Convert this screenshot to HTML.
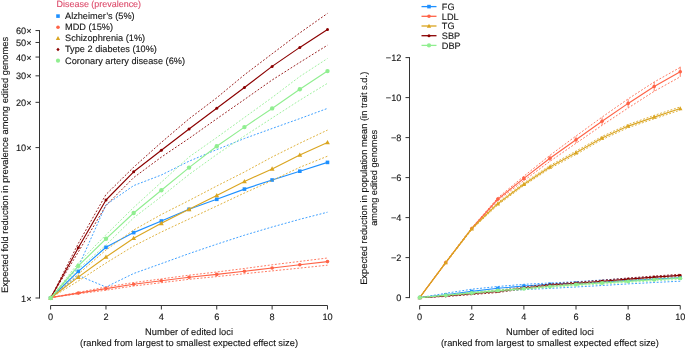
<!DOCTYPE html>
<html><head><meta charset="utf-8"><style>
html,body{margin:0;padding:0;background:#fff;}
svg{display:block;will-change:transform;}
text{text-rendering:geometricPrecision;font-family:"Liberation Sans", sans-serif;font-size:9.2px;fill:#141414;stroke:#141414;stroke-width:0.12px;}
</style></head><body>
<svg width="685" height="348" viewBox="0 0 685 348">
<line x1="39.5" y1="30.1" x2="39.5" y2="298.5" stroke="#333" stroke-width="1"/>
<line x1="35.5" y1="298.00" x2="39.5" y2="298.00" stroke="#333" stroke-width="1"/>
<text x="31.5" y="301.60" text-anchor="end">1×</text>
<line x1="35.5" y1="147.60" x2="39.5" y2="147.60" stroke="#333" stroke-width="1"/>
<text x="31.5" y="151.20" text-anchor="end">10×</text>
<line x1="35.5" y1="102.33" x2="39.5" y2="102.33" stroke="#333" stroke-width="1"/>
<text x="31.5" y="105.93" text-anchor="end">20×</text>
<line x1="35.5" y1="75.84" x2="39.5" y2="75.84" stroke="#333" stroke-width="1"/>
<text x="31.5" y="79.44" text-anchor="end">30×</text>
<line x1="35.5" y1="57.05" x2="39.5" y2="57.05" stroke="#333" stroke-width="1"/>
<text x="31.5" y="60.65" text-anchor="end">40×</text>
<line x1="35.5" y1="42.47" x2="39.5" y2="42.47" stroke="#333" stroke-width="1"/>
<text x="31.5" y="46.07" text-anchor="end">50×</text>
<line x1="35.5" y1="30.57" x2="39.5" y2="30.57" stroke="#333" stroke-width="1"/>
<text x="31.5" y="34.17" text-anchor="end">60×</text>
<line x1="50.60" y1="305.5" x2="327.50" y2="305.5" stroke="#333" stroke-width="1"/>
<line x1="50.60" y1="305.5" x2="50.60" y2="309.5" stroke="#333" stroke-width="1"/>
<text x="50.60" y="320.1" text-anchor="middle">0</text>
<line x1="105.98" y1="305.5" x2="105.98" y2="309.5" stroke="#333" stroke-width="1"/>
<text x="105.98" y="320.1" text-anchor="middle">2</text>
<line x1="161.36" y1="305.5" x2="161.36" y2="309.5" stroke="#333" stroke-width="1"/>
<text x="161.36" y="320.1" text-anchor="middle">4</text>
<line x1="216.74" y1="305.5" x2="216.74" y2="309.5" stroke="#333" stroke-width="1"/>
<text x="216.74" y="320.1" text-anchor="middle">6</text>
<line x1="272.12" y1="305.5" x2="272.12" y2="309.5" stroke="#333" stroke-width="1"/>
<text x="272.12" y="320.1" text-anchor="middle">8</text>
<line x1="327.50" y1="305.5" x2="327.50" y2="309.5" stroke="#333" stroke-width="1"/>
<text x="327.50" y="320.1" text-anchor="middle">10</text>
<text x="189.05" y="335.2" text-anchor="middle" style="font-size:9.3px">Number of edited loci</text>
<text x="189.05" y="345.9" text-anchor="middle" style="font-size:9.3px">(ranked from largest to smallest expected effect size)</text>
<text transform="translate(7.7 164.9) rotate(-90)" text-anchor="middle" style="font-size:9.36px">Expected fold reduction in prevalence among edited genomes</text>
<line x1="409.5" y1="57.1" x2="409.5" y2="298.1" stroke="#333" stroke-width="1"/>
<line x1="405.5" y1="297.60" x2="409.5" y2="297.60" stroke="#333" stroke-width="1"/>
<text x="401.4" y="301.10" text-anchor="end">0</text>
<line x1="405.5" y1="257.60" x2="409.5" y2="257.60" stroke="#333" stroke-width="1"/>
<text x="401.4" y="261.10" text-anchor="end">−2</text>
<line x1="405.5" y1="217.60" x2="409.5" y2="217.60" stroke="#333" stroke-width="1"/>
<text x="401.4" y="221.10" text-anchor="end">−4</text>
<line x1="405.5" y1="177.60" x2="409.5" y2="177.60" stroke="#333" stroke-width="1"/>
<text x="401.4" y="181.10" text-anchor="end">−6</text>
<line x1="405.5" y1="137.60" x2="409.5" y2="137.60" stroke="#333" stroke-width="1"/>
<text x="401.4" y="141.10" text-anchor="end">−8</text>
<line x1="405.5" y1="97.60" x2="409.5" y2="97.60" stroke="#333" stroke-width="1"/>
<text x="401.4" y="101.10" text-anchor="end">−10</text>
<line x1="405.5" y1="57.60" x2="409.5" y2="57.60" stroke="#333" stroke-width="1"/>
<text x="401.4" y="61.10" text-anchor="end">−12</text>
<line x1="419.65" y1="305.5" x2="680.25" y2="305.5" stroke="#333" stroke-width="1"/>
<line x1="419.65" y1="305.5" x2="419.65" y2="309.5" stroke="#333" stroke-width="1"/>
<text x="419.65" y="320.1" text-anchor="middle">0</text>
<line x1="471.77" y1="305.5" x2="471.77" y2="309.5" stroke="#333" stroke-width="1"/>
<text x="471.77" y="320.1" text-anchor="middle">2</text>
<line x1="523.89" y1="305.5" x2="523.89" y2="309.5" stroke="#333" stroke-width="1"/>
<text x="523.89" y="320.1" text-anchor="middle">4</text>
<line x1="576.01" y1="305.5" x2="576.01" y2="309.5" stroke="#333" stroke-width="1"/>
<text x="576.01" y="320.1" text-anchor="middle">6</text>
<line x1="628.13" y1="305.5" x2="628.13" y2="309.5" stroke="#333" stroke-width="1"/>
<text x="628.13" y="320.1" text-anchor="middle">8</text>
<line x1="680.25" y1="305.5" x2="680.25" y2="309.5" stroke="#333" stroke-width="1"/>
<text x="680.25" y="320.1" text-anchor="middle">10</text>
<text x="549.95" y="335.2" text-anchor="middle" style="font-size:9.3px">Number of edited loci</text>
<text x="549.95" y="345.9" text-anchor="middle" style="font-size:9.3px">(ranked from largest to smallest expected effect size)</text>
<text transform="translate(367.4 178.3) rotate(-90)" text-anchor="middle" style="font-size:9.33px">Expected reduction in population mean (in trait s.d.)</text>
<text transform="translate(377.4 177.8) rotate(-90)" text-anchor="middle">among edited genomes</text>
<polyline points="50.60,298.00 78.29,267.00 105.98,204.80 133.67,185.60 161.36,175.00 189.05,161.20 216.74,149.60 244.43,138.50 272.12,128.50 299.81,118.60 327.50,108.40" fill="none" stroke="#1E90FF" stroke-width="0.95" stroke-dasharray="1.9 1.7" stroke-opacity="0.9"/>
<polyline points="50.60,298.00 78.29,275.50 105.98,287.00 133.67,273.50 161.36,263.60 189.05,253.60 216.74,244.20 244.43,235.20 272.12,227.00 299.81,219.30 327.50,212.20" fill="none" stroke="#1E90FF" stroke-width="0.95" stroke-dasharray="1.9 1.7" stroke-opacity="0.9"/>
<polyline points="50.60,298.00 78.29,271.40 105.98,247.30 133.67,232.60 161.36,221.00 189.05,209.30 216.74,199.30 244.43,189.10 272.12,180.00 299.81,171.20 327.50,162.40" fill="none" stroke="#1E90FF" stroke-width="1.15" stroke-linejoin="round"/>
<rect x="48.80" y="296.20" width="3.60" height="3.60" fill="#1E90FF"/>
<rect x="76.49" y="269.60" width="3.60" height="3.60" fill="#1E90FF"/>
<rect x="104.18" y="245.50" width="3.60" height="3.60" fill="#1E90FF"/>
<rect x="131.87" y="230.80" width="3.60" height="3.60" fill="#1E90FF"/>
<rect x="159.56" y="219.20" width="3.60" height="3.60" fill="#1E90FF"/>
<rect x="187.25" y="207.50" width="3.60" height="3.60" fill="#1E90FF"/>
<rect x="214.94" y="197.50" width="3.60" height="3.60" fill="#1E90FF"/>
<rect x="242.63" y="187.30" width="3.60" height="3.60" fill="#1E90FF"/>
<rect x="270.32" y="178.20" width="3.60" height="3.60" fill="#1E90FF"/>
<rect x="298.01" y="169.40" width="3.60" height="3.60" fill="#1E90FF"/>
<rect x="325.70" y="160.60" width="3.60" height="3.60" fill="#1E90FF"/>
<polyline points="50.60,297.60 78.29,292.40 105.98,287.00 133.67,282.60 161.36,278.90 189.05,275.20 216.74,272.00 244.43,268.50 272.12,264.80 299.81,261.40 327.50,258.00" fill="none" stroke="#FF6347" stroke-width="0.95" stroke-dasharray="1.9 1.7" stroke-opacity="0.9"/>
<polyline points="50.60,297.60 78.29,293.80 105.98,290.20 133.67,286.00 161.36,282.70 189.05,279.30 216.74,276.60 244.43,273.70 272.12,270.90 299.81,268.10 327.50,265.20" fill="none" stroke="#FF6347" stroke-width="0.95" stroke-dasharray="1.9 1.7" stroke-opacity="0.9"/>
<polyline points="50.60,297.60 78.29,293.10 105.98,288.60 133.67,284.30 161.36,280.80 189.05,277.20 216.74,274.40 244.43,271.20 272.12,268.00 299.81,264.80 327.50,261.60" fill="none" stroke="#FF6347" stroke-width="1.15" stroke-linejoin="round"/>
<circle cx="50.60" cy="297.60" r="1.80" fill="#FF6347"/>
<circle cx="78.29" cy="293.10" r="1.80" fill="#FF6347"/>
<circle cx="105.98" cy="288.60" r="1.80" fill="#FF6347"/>
<circle cx="133.67" cy="284.30" r="1.80" fill="#FF6347"/>
<circle cx="161.36" cy="280.80" r="1.80" fill="#FF6347"/>
<circle cx="189.05" cy="277.20" r="1.80" fill="#FF6347"/>
<circle cx="216.74" cy="274.40" r="1.80" fill="#FF6347"/>
<circle cx="244.43" cy="271.20" r="1.80" fill="#FF6347"/>
<circle cx="272.12" cy="268.00" r="1.80" fill="#FF6347"/>
<circle cx="299.81" cy="264.80" r="1.80" fill="#FF6347"/>
<circle cx="327.50" cy="261.60" r="1.80" fill="#FF6347"/>
<polyline points="50.60,298.00 78.29,274.00 105.98,250.00 133.67,230.00 161.36,214.50 189.05,200.50 216.74,186.00 244.43,172.00 272.12,157.00 299.81,143.20 327.50,130.10" fill="none" stroke="#DAA520" stroke-width="0.95" stroke-dasharray="1.9 1.7" stroke-opacity="0.9"/>
<polyline points="50.60,298.00 78.29,281.00 105.98,263.00 133.67,246.00 161.36,232.00 189.05,219.00 216.74,206.00 244.43,193.00 272.12,180.50 299.81,167.30 327.50,156.20" fill="none" stroke="#DAA520" stroke-width="0.95" stroke-dasharray="1.9 1.7" stroke-opacity="0.9"/>
<polyline points="50.60,298.00 78.29,277.10 105.98,257.00 133.67,238.20 161.36,223.30 189.05,209.30 216.74,195.50 244.43,181.50 272.12,168.90 299.81,155.00 327.50,142.50" fill="none" stroke="#DAA520" stroke-width="1.15" stroke-linejoin="round"/>
<path d="M50.60 295.47L53.02 299.87L48.18 299.87Z" fill="#DAA520"/>
<path d="M78.29 274.57L80.71 278.97L75.87 278.97Z" fill="#DAA520"/>
<path d="M105.98 254.47L108.40 258.87L103.56 258.87Z" fill="#DAA520"/>
<path d="M133.67 235.67L136.09 240.07L131.25 240.07Z" fill="#DAA520"/>
<path d="M161.36 220.77L163.78 225.17L158.94 225.17Z" fill="#DAA520"/>
<path d="M189.05 206.77L191.47 211.17L186.63 211.17Z" fill="#DAA520"/>
<path d="M216.74 192.97L219.16 197.37L214.32 197.37Z" fill="#DAA520"/>
<path d="M244.43 178.97L246.85 183.37L242.01 183.37Z" fill="#DAA520"/>
<path d="M272.12 166.37L274.54 170.77L269.70 170.77Z" fill="#DAA520"/>
<path d="M299.81 152.47L302.23 156.87L297.39 156.87Z" fill="#DAA520"/>
<path d="M327.50 139.97L329.92 144.37L325.08 144.37Z" fill="#DAA520"/>
<polyline points="50.60,298.00 78.29,243.50 105.98,194.50 133.67,167.20 161.36,142.40 189.05,118.80 216.74,97.80 244.43,74.80 272.12,53.80 299.81,32.90 327.50,13.40" fill="none" stroke="#8B0000" stroke-width="0.95" stroke-dasharray="1.9 1.7" stroke-opacity="0.9"/>
<polyline points="50.60,298.00 78.29,252.00 105.98,205.50 133.67,177.60 161.36,157.10 189.05,138.40 216.74,118.80 244.43,99.50 272.12,80.00 299.81,62.40 327.50,45.20" fill="none" stroke="#8B0000" stroke-width="0.95" stroke-dasharray="1.9 1.7" stroke-opacity="0.9"/>
<polyline points="50.60,298.00 78.29,247.80 105.98,200.00 133.67,171.80 161.36,150.20 189.05,129.00 216.74,108.30 244.43,87.50 272.12,66.40 299.81,47.40 327.50,29.50" fill="none" stroke="#8B0000" stroke-width="1.15" stroke-linejoin="round"/>
<circle cx="50.60" cy="298.00" r="1.50" fill="#8B0000"/>
<circle cx="78.29" cy="247.80" r="1.50" fill="#8B0000"/>
<circle cx="105.98" cy="200.00" r="1.50" fill="#8B0000"/>
<circle cx="133.67" cy="171.80" r="1.50" fill="#8B0000"/>
<circle cx="161.36" cy="150.20" r="1.50" fill="#8B0000"/>
<circle cx="189.05" cy="129.00" r="1.50" fill="#8B0000"/>
<circle cx="216.74" cy="108.30" r="1.50" fill="#8B0000"/>
<circle cx="244.43" cy="87.50" r="1.50" fill="#8B0000"/>
<circle cx="272.12" cy="66.40" r="1.50" fill="#8B0000"/>
<circle cx="299.81" cy="47.40" r="1.50" fill="#8B0000"/>
<circle cx="327.50" cy="29.50" r="1.50" fill="#8B0000"/>
<polyline points="50.60,298.00 78.29,263.00 105.98,234.80 133.67,207.50 161.36,182.20 189.05,157.00 216.74,137.50 244.43,117.50 272.12,97.50 299.81,76.50 327.50,58.50" fill="none" stroke="#90EE90" stroke-width="0.95" stroke-dasharray="1.9 1.7" stroke-opacity="0.9"/>
<polyline points="50.60,298.00 78.29,269.00 105.98,245.00 133.67,217.80 161.36,196.60 189.05,174.50 216.74,154.50 244.43,136.00 272.12,118.00 299.81,100.20 327.50,83.30" fill="none" stroke="#90EE90" stroke-width="0.95" stroke-dasharray="1.9 1.7" stroke-opacity="0.9"/>
<polyline points="50.60,298.00 78.29,265.90 105.98,238.80 133.67,213.00 161.36,190.30 189.05,167.60 216.74,146.30 244.43,127.10 272.12,108.40 299.81,89.30 327.50,71.10" fill="none" stroke="#90EE90" stroke-width="1.15" stroke-linejoin="round"/>
<circle cx="50.60" cy="298.00" r="2.20" fill="#90EE90"/>
<circle cx="78.29" cy="265.90" r="2.20" fill="#90EE90"/>
<circle cx="105.98" cy="238.80" r="2.20" fill="#90EE90"/>
<circle cx="133.67" cy="213.00" r="2.20" fill="#90EE90"/>
<circle cx="161.36" cy="190.30" r="2.20" fill="#90EE90"/>
<circle cx="189.05" cy="167.60" r="2.20" fill="#90EE90"/>
<circle cx="216.74" cy="146.30" r="2.20" fill="#90EE90"/>
<circle cx="244.43" cy="127.10" r="2.20" fill="#90EE90"/>
<circle cx="272.12" cy="108.40" r="2.20" fill="#90EE90"/>
<circle cx="299.81" cy="89.30" r="2.20" fill="#90EE90"/>
<circle cx="327.50" cy="71.10" r="2.20" fill="#90EE90"/>
<polyline points="419.65,297.60 445.71,293.30 471.77,289.20 497.83,286.50 523.89,284.30 549.95,283.00 576.01,281.70 602.07,280.00 628.13,278.40 654.19,276.80 680.25,275.30" fill="none" stroke="#1E90FF" stroke-width="0.95" stroke-dasharray="1.9 1.7" stroke-opacity="0.9"/>
<polyline points="419.65,297.60 445.71,296.00 471.77,293.50 497.83,291.20 523.89,289.60 549.95,288.40 576.01,287.00 602.07,285.50 628.13,283.90 654.19,282.50 680.25,281.20" fill="none" stroke="#1E90FF" stroke-width="0.95" stroke-dasharray="1.9 1.7" stroke-opacity="0.9"/>
<polyline points="419.65,297.60 445.71,294.70 471.77,291.40 497.83,288.30 523.89,286.00 549.95,284.30 576.01,283.20 602.07,282.00 628.13,280.50 654.19,279.10 680.25,277.80" fill="none" stroke="#1E90FF" stroke-width="1.15" stroke-linejoin="round"/>
<rect x="417.95" y="295.90" width="3.40" height="3.40" fill="#1E90FF"/>
<rect x="444.01" y="293.00" width="3.40" height="3.40" fill="#1E90FF"/>
<rect x="470.07" y="289.70" width="3.40" height="3.40" fill="#1E90FF"/>
<rect x="496.13" y="286.60" width="3.40" height="3.40" fill="#1E90FF"/>
<rect x="522.19" y="284.30" width="3.40" height="3.40" fill="#1E90FF"/>
<rect x="548.25" y="282.60" width="3.40" height="3.40" fill="#1E90FF"/>
<rect x="574.31" y="281.50" width="3.40" height="3.40" fill="#1E90FF"/>
<rect x="600.37" y="280.30" width="3.40" height="3.40" fill="#1E90FF"/>
<rect x="626.43" y="278.80" width="3.40" height="3.40" fill="#1E90FF"/>
<rect x="652.49" y="277.40" width="3.40" height="3.40" fill="#1E90FF"/>
<rect x="678.55" y="276.10" width="3.40" height="3.40" fill="#1E90FF"/>
<polyline points="419.65,297.60 445.71,262.30 471.77,227.80 497.83,197.80 523.89,176.20 549.95,155.30 576.01,136.00 602.07,117.10 628.13,98.90 654.19,82.00 680.25,67.40" fill="none" stroke="#FF6347" stroke-width="0.95" stroke-dasharray="1.9 1.7" stroke-opacity="0.9"/>
<polyline points="419.65,297.60 445.71,262.90 471.77,229.20 497.83,200.40 523.89,180.60 549.95,161.30 576.01,143.30 602.07,125.30 628.13,108.00 654.19,91.30 680.25,76.80" fill="none" stroke="#FF6347" stroke-width="0.95" stroke-dasharray="1.9 1.7" stroke-opacity="0.9"/>
<polyline points="419.65,297.60 445.71,262.60 471.77,228.50 497.83,199.10 523.89,178.40 549.95,158.30 576.01,139.70 602.07,121.20 628.13,103.40 654.19,86.50 680.25,71.80" fill="none" stroke="#FF6347" stroke-width="1.15" stroke-linejoin="round"/>
<line x1="445.71" x2="445.71" y1="261.55" y2="263.65" stroke="#FF6347" stroke-width="0.8"/>
<line x1="471.77" x2="471.77" y1="227.00" y2="230.00" stroke="#FF6347" stroke-width="0.8"/>
<line x1="497.83" x2="497.83" y1="197.15" y2="201.05" stroke="#FF6347" stroke-width="0.8"/>
<line x1="523.89" x2="523.89" y1="176.00" y2="180.80" stroke="#FF6347" stroke-width="0.8"/>
<line x1="549.95" x2="549.95" y1="155.45" y2="161.15" stroke="#FF6347" stroke-width="0.8"/>
<line x1="576.01" x2="576.01" y1="136.40" y2="143.00" stroke="#FF6347" stroke-width="0.8"/>
<line x1="602.07" x2="602.07" y1="117.45" y2="124.95" stroke="#FF6347" stroke-width="0.8"/>
<line x1="628.13" x2="628.13" y1="99.20" y2="107.60" stroke="#FF6347" stroke-width="0.8"/>
<line x1="654.19" x2="654.19" y1="81.85" y2="91.15" stroke="#FF6347" stroke-width="0.8"/>
<line x1="680.25" x2="680.25" y1="66.70" y2="76.90" stroke="#FF6347" stroke-width="0.8"/>
<circle cx="419.65" cy="297.60" r="1.80" fill="#FF6347"/>
<circle cx="445.71" cy="262.60" r="1.80" fill="#FF6347"/>
<circle cx="471.77" cy="228.50" r="1.80" fill="#FF6347"/>
<circle cx="497.83" cy="199.10" r="1.80" fill="#FF6347"/>
<circle cx="523.89" cy="178.40" r="1.80" fill="#FF6347"/>
<circle cx="549.95" cy="158.30" r="1.80" fill="#FF6347"/>
<circle cx="576.01" cy="139.70" r="1.80" fill="#FF6347"/>
<circle cx="602.07" cy="121.20" r="1.80" fill="#FF6347"/>
<circle cx="628.13" cy="103.40" r="1.80" fill="#FF6347"/>
<circle cx="654.19" cy="86.50" r="1.80" fill="#FF6347"/>
<circle cx="680.25" cy="71.80" r="1.80" fill="#FF6347"/>
<polyline points="419.65,297.60 445.71,262.00 471.77,227.80 497.83,202.50 523.89,182.80 549.95,165.50 576.01,151.10 602.07,136.40 628.13,124.50 654.19,115.40 680.25,106.90" fill="none" stroke="#DAA520" stroke-width="0.95" stroke-dasharray="1.9 1.7" stroke-opacity="0.9"/>
<polyline points="419.65,297.60 445.71,263.20 471.77,229.60 497.83,204.90 523.89,185.60 549.95,168.50 576.01,154.50 602.07,139.60 628.13,127.70 654.19,118.80 680.25,110.10" fill="none" stroke="#DAA520" stroke-width="0.95" stroke-dasharray="1.9 1.7" stroke-opacity="0.9"/>
<polyline points="419.65,297.60 445.71,262.60 471.77,228.70 497.83,203.70 523.89,184.20 549.95,167.00 576.01,152.80 602.07,138.00 628.13,126.10 654.19,117.10 680.25,108.50" fill="none" stroke="#DAA520" stroke-width="1.15" stroke-linejoin="round"/>
<path d="M419.65 295.30L421.85 299.30L417.45 299.30Z" fill="#DAA520"/>
<path d="M445.71 260.30L447.91 264.30L443.51 264.30Z" fill="#DAA520"/>
<path d="M471.77 226.40L473.97 230.40L469.57 230.40Z" fill="#DAA520"/>
<path d="M497.83 201.40L500.03 205.40L495.63 205.40Z" fill="#DAA520"/>
<path d="M523.89 181.90L526.09 185.90L521.69 185.90Z" fill="#DAA520"/>
<path d="M549.95 164.70L552.15 168.70L547.75 168.70Z" fill="#DAA520"/>
<path d="M576.01 150.50L578.21 154.50L573.81 154.50Z" fill="#DAA520"/>
<path d="M602.07 135.70L604.27 139.70L599.87 139.70Z" fill="#DAA520"/>
<path d="M628.13 123.80L630.33 127.80L625.93 127.80Z" fill="#DAA520"/>
<path d="M654.19 114.80L656.39 118.80L651.99 118.80Z" fill="#DAA520"/>
<path d="M680.25 106.20L682.45 110.20L678.05 110.20Z" fill="#DAA520"/>
<polyline points="419.65,297.60 445.71,295.50 471.77,293.00 497.83,290.50 523.89,287.00 549.95,284.00 576.01,282.20 602.07,280.20 628.13,278.00 654.19,276.00 680.25,274.30" fill="none" stroke="#8B0000" stroke-width="0.95" stroke-dasharray="1.9 1.7" stroke-opacity="0.9"/>
<polyline points="419.65,297.60 445.71,296.50 471.77,294.60 497.83,292.50 523.89,289.00 549.95,286.00 576.01,284.20 602.07,282.20 628.13,280.20 654.19,278.20 680.25,276.50" fill="none" stroke="#8B0000" stroke-width="0.95" stroke-dasharray="1.9 1.7" stroke-opacity="0.9"/>
<polyline points="419.65,297.60 445.71,296.00 471.77,293.80 497.83,291.50 523.89,288.00 549.95,285.00 576.01,283.20 602.07,281.20 628.13,279.10 654.19,277.10 680.25,275.40" fill="none" stroke="#8B0000" stroke-width="1.15" stroke-linejoin="round"/>
<circle cx="419.65" cy="297.60" r="1.40" fill="#8B0000"/>
<circle cx="445.71" cy="296.00" r="1.40" fill="#8B0000"/>
<circle cx="471.77" cy="293.80" r="1.40" fill="#8B0000"/>
<circle cx="497.83" cy="291.50" r="1.40" fill="#8B0000"/>
<circle cx="523.89" cy="288.00" r="1.40" fill="#8B0000"/>
<circle cx="549.95" cy="285.00" r="1.40" fill="#8B0000"/>
<circle cx="576.01" cy="283.20" r="1.40" fill="#8B0000"/>
<circle cx="602.07" cy="281.20" r="1.40" fill="#8B0000"/>
<circle cx="628.13" cy="279.10" r="1.40" fill="#8B0000"/>
<circle cx="654.19" cy="277.10" r="1.40" fill="#8B0000"/>
<circle cx="680.25" cy="275.40" r="1.40" fill="#8B0000"/>
<polyline points="419.65,297.60 445.71,294.70 471.77,292.20 497.83,289.80 523.89,287.80 549.95,285.60 576.01,283.60 602.07,282.00 628.13,280.40 654.19,278.70 680.25,277.20" fill="none" stroke="#90EE90" stroke-width="0.95" stroke-dasharray="1.9 1.7" stroke-opacity="0.9"/>
<polyline points="419.65,297.60 445.71,295.70 471.77,293.60 497.83,291.40 523.89,289.60 549.95,287.40 576.01,285.60 602.07,284.00 628.13,282.40 654.19,280.90 680.25,279.40" fill="none" stroke="#90EE90" stroke-width="0.95" stroke-dasharray="1.9 1.7" stroke-opacity="0.9"/>
<polyline points="419.65,297.60 445.71,295.20 471.77,292.90 497.83,290.60 523.89,288.70 549.95,286.50 576.01,284.60 602.07,283.00 628.13,281.40 654.19,279.80 680.25,278.30" fill="none" stroke="#90EE90" stroke-width="1.15" stroke-linejoin="round"/>
<circle cx="419.65" cy="297.60" r="2.00" fill="#90EE90"/>
<circle cx="445.71" cy="295.20" r="2.00" fill="#90EE90"/>
<circle cx="471.77" cy="292.90" r="2.00" fill="#90EE90"/>
<circle cx="497.83" cy="290.60" r="2.00" fill="#90EE90"/>
<circle cx="523.89" cy="288.70" r="2.00" fill="#90EE90"/>
<circle cx="549.95" cy="286.50" r="2.00" fill="#90EE90"/>
<circle cx="576.01" cy="284.60" r="2.00" fill="#90EE90"/>
<circle cx="602.07" cy="283.00" r="2.00" fill="#90EE90"/>
<circle cx="628.13" cy="281.40" r="2.00" fill="#90EE90"/>
<circle cx="654.19" cy="279.80" r="2.00" fill="#90EE90"/>
<circle cx="680.25" cy="278.30" r="2.00" fill="#90EE90"/>
<text x="56.6" y="6.7" style="fill:#DC4A6A;stroke:#DC4A6A;font-size:8.95px">Disease (prevalence)</text>
<rect x="56.20" y="14.30" width="3.60" height="3.60" fill="#1E90FF"/>
<text x="65" y="19.00">Alzheimer’s (5%)</text>
<circle cx="58.00" cy="27.25" r="1.80" fill="#FF6347"/>
<text x="65" y="30.15">MDD (15%)</text>
<path d="M58.00 36.10L60.20 40.10L55.80 40.10Z" fill="#DAA520"/>
<text x="65" y="41.30">Schizophrenia (1%)</text>
<path d="M58.00 47.85L59.70 49.55L58.00 51.25L56.30 49.55Z" fill="#8B0000"/>
<text x="65" y="52.45">Type 2 diabetes (10%)</text>
<circle cx="58.00" cy="60.70" r="2.10" fill="#90EE90"/>
<text x="65" y="63.60">Coronary artery disease (6%)</text>
<line x1="421.5" x2="436.5" y1="6.60" y2="6.60" stroke="#1E90FF" stroke-width="1.3"/>
<rect x="427.20" y="4.80" width="3.60" height="3.60" fill="#1E90FF"/>
<text x="441.8" y="9.80">FG</text>
<line x1="421.5" x2="436.5" y1="16.30" y2="16.30" stroke="#FF6347" stroke-width="1.3"/>
<circle cx="429.00" cy="16.30" r="1.80" fill="#FF6347"/>
<text x="441.8" y="19.50">LDL</text>
<line x1="421.5" x2="436.5" y1="26.00" y2="26.00" stroke="#DAA520" stroke-width="1.3"/>
<path d="M429.00 23.70L431.20 27.70L426.80 27.70Z" fill="#DAA520"/>
<text x="441.8" y="29.20">TG</text>
<line x1="421.5" x2="436.5" y1="35.70" y2="35.70" stroke="#8B0000" stroke-width="1.3"/>
<circle cx="429.00" cy="35.70" r="1.50" fill="#8B0000"/>
<text x="441.8" y="38.90">SBP</text>
<line x1="421.5" x2="436.5" y1="45.40" y2="45.40" stroke="#90EE90" stroke-width="1.3"/>
<circle cx="429.00" cy="45.40" r="2.10" fill="#90EE90"/>
<text x="441.8" y="48.60">DBP</text>
</svg>
</body></html>
